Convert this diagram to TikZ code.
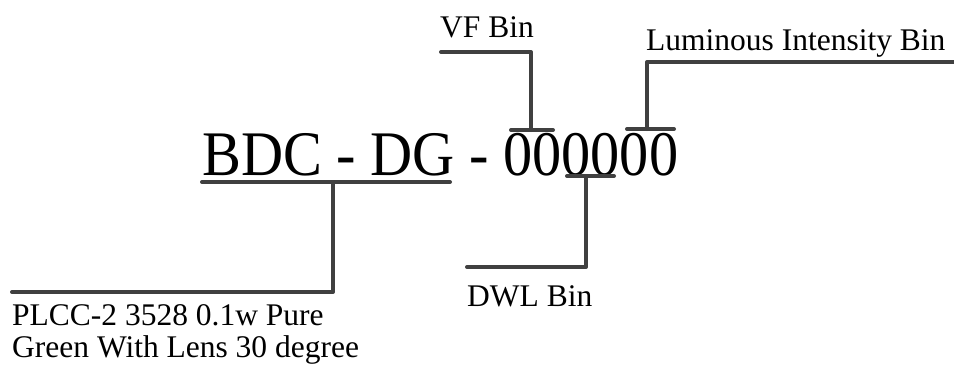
\documentclass[tikz,border=0pt]{standalone}
\usepackage{fontspec}
\setmainfont{Liberation Serif}
\definecolor{lineg}{HTML}{404040}
\begin{document}
\begin{tikzpicture}[x=1pt,y=-1pt,
  leader/.style={draw=lineg, line width=4pt, line cap=round, line join=round},
  lbl/.style={inner sep=0pt, anchor=base west, font=\fontsize{31.5}{32}\selectfont}]
\useasboundingbox (0,0) rectangle (954,368);
% main code
\node[inner sep=0pt, anchor=base west] (code) at (202,175)
  {\scalebox{0.918}[1]{\fontsize{63.5}{64}\selectfont BDC - DG - 000000}};
% labels
\node[lbl] (vf) at (440,37) {VF Bin};
\node[lbl] (lum) at (646,50) {Luminous Intensity Bin};
\node[lbl] (dwl) at (467,306) {DWL Bin};
\node[lbl, align=left] (plcc) at (12,357) {PLCC-2 3528 0.1w Pure\\Green With Lens 30 degree};
% anchor points
\coordinate (ulW) at (202,182);
\coordinate (ulE) at (450,182);
\coordinate (ulM) at (333,182);
\coordinate (plccC) at (333,292);
\coordinate (plccE) at (12,292);
\coordinate (vfW) at (511,130);
\coordinate (vfE) at (553,130);
\coordinate (vfM) at (531,130);
\coordinate (vfC) at (531,52);
\coordinate (vfL) at (441,52);
\coordinate (lmW) at (627,129);
\coordinate (lmE) at (674,129);
\coordinate (lmM) at (647,129);
\coordinate (lmC) at (647,62);
\coordinate (lmR) at (958,62);
\coordinate (dwW) at (567,176);
\coordinate (dwE) at (614,176);
\coordinate (dwM) at (586,176);
\coordinate (dwC) at (586,267);
\coordinate (dwL) at (467,267);
% leaders
\draw[leader] (ulW) -- (ulE);
\draw[leader] (ulM) -- (plccC) -- (plccE);
\draw[leader] (vfW) -- (vfE);
\draw[leader] (vfM) -- (vfC) -- (vfL);
\draw[leader] (lmW) -- (lmE);
\draw[leader] (lmM) -- (lmC) -- (lmR);
\draw[leader] (dwW) -- (dwE);
\draw[leader] (dwM) -- (dwC) -- (dwL);
\end{tikzpicture}
\end{document}
